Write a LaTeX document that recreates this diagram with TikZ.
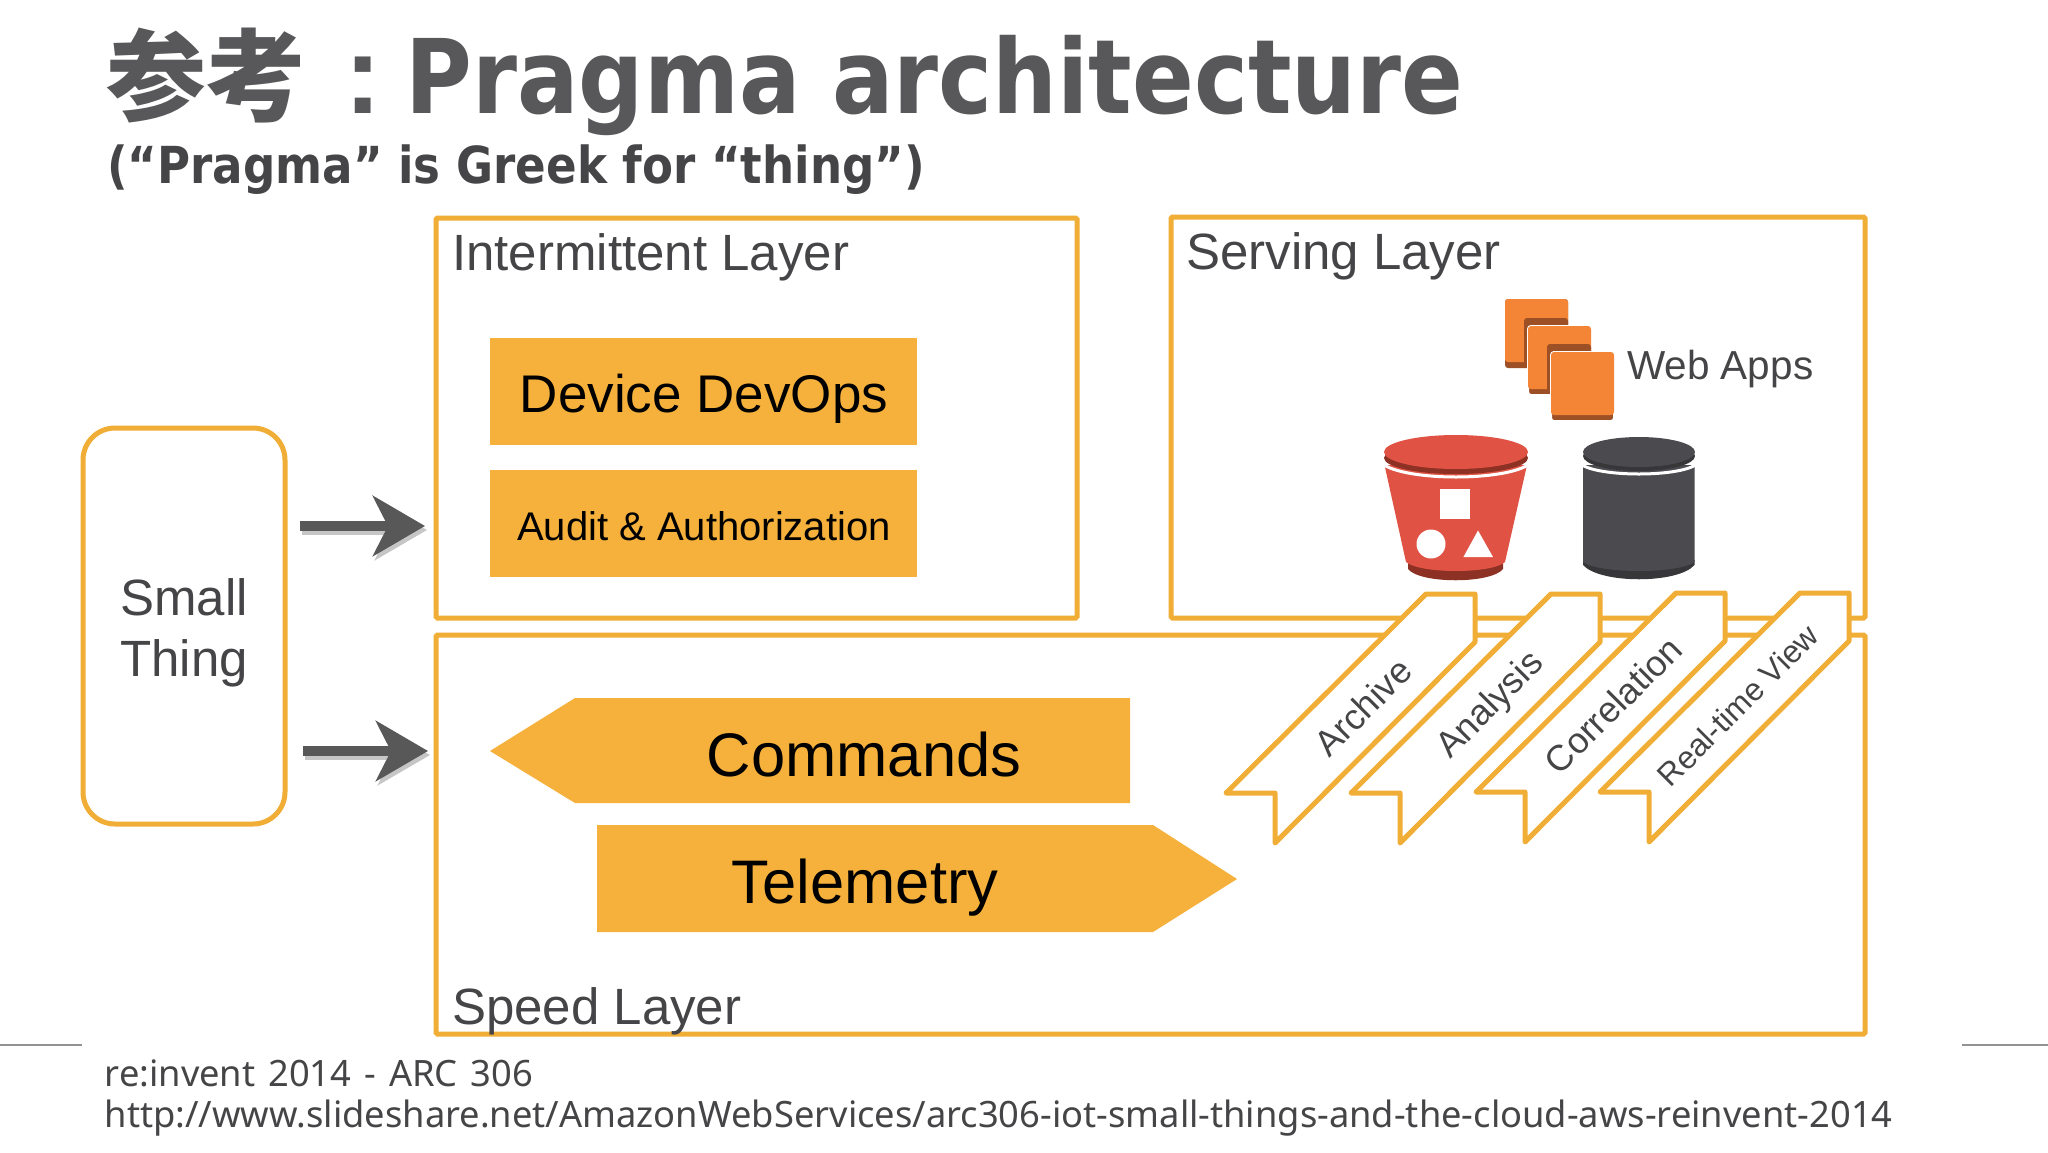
\documentclass[tikz,border=0pt]{standalone}
\usepackage{fontspec}
\usepackage{xcolor}
\usetikzlibrary{arrows.meta}
\setmainfont{Liberation Sans}
\newfontfamily\titlefont[FakeStretch=.885]{DejaVu Sans}
\newfontfamily\footfont{Noto Sans}
\newfontfamily\cjkfont{Noto Sans CJK JP}
\definecolor{awsamber}{HTML}{F5B13B}
\definecolor{awsline}{HTML}{F1AE37}
\definecolor{slidetext}{HTML}{454547}
\definecolor{cardlight}{HTML}{F58536}
\definecolor{carddark}{HTML}{9D5025}
\definecolor{bucketred}{HTML}{E05243}
\definecolor{bucketdark}{HTML}{8C3123}
\definecolor{dbgrey}{HTML}{4B4B4F}
\definecolor{dbdark}{HTML}{37373A}
\newcommand{\fsz}[1]{\fontsize{#1}{60.5}\selectfont}
\tikzset{
  layerbox/.style={draw=awsline,line width=5pt,rounded corners=1.5pt,inner sep=0},
  layerlabel/.style={anchor=base west,inner sep=0,text=slidetext,font=\fsz{51}},
  amberbox/.style={fill=awsamber,inner sep=0,text=black},
  ribbon/.style={draw=awsline,fill=white,line width=5pt,line join=round},
  ribbonlabel/.style={inner sep=0,text=slidetext,rotate=45},
  footline/.style={anchor=base west,inner sep=0,text=slidetext,font=\footfont\fsz{36.3}},
  rule/.style={draw=gray!85,line width=2pt},
  thingarrow/.style={line width=10pt,-{Stealth[length=52pt,width=60pt,inset=15pt]}}
}
\begin{document}
\begin{tikzpicture}[x=1pt,y=-1pt]
  \useasboundingbox (0,0) rectangle (2048,1152);
  \fill[white] (0,0) rectangle (2048,1152);

  % headings
  \node[anchor=base west,inner sep=0,text=slidetext!90] (title) at (106,113)
    {\cjkfont\bfseries\fsz{100}参考\hspace{38pt}\rmfamily\bfseries\fsz{112}:\hspace{24pt}\titlefont\bfseries\fsz{103}Pragma architecture};
  \node[anchor=base west,inner sep=0,text=slidetext] (subtitle) at (107,183)
    {\titlefont\bfseries\fsz{51}(“Pragma” is Greek for “thing”)};

  % layers
  \node[layerbox,minimum width=641pt,minimum height=400pt] (intermittent) at (756.5,418) {};
  \node[layerbox,minimum width=694pt,minimum height=401pt] (serving) at (1518,417.5) {};
  \node[layerbox,minimum width=1429pt,minimum height=399pt] (speed) at (1150.5,834.5) {};
  \node[layerlabel] (intermittent_L) at (452,270) {Intermittent Layer};
  \node[layerlabel] (serving_L) at (1186,269) {Serving Layer};
  \node[layerlabel] (speed_L) at (452,1024) {Speed Layer};

  \node[amberbox,minimum width=427pt,minimum height=107pt] (devops) at (703.5,391.5) {};
  \node[inner sep=0,text=black,font=\fsz{53}] (devops_L) at (704,399) {Device DevOps};
  \node[amberbox,minimum width=427pt,minimum height=107pt] (audit) at (703.5,523.5) {};
  \node[inner sep=0,text=black,font=\fsz{40}] (audit_L) at (704,526) {Audit \& Authorization};

  \fill[awsamber] (490,751) -- (575,698) -- (1130,698) -- (1130,803) -- (575,803) -- cycle;
  \node[inner sep=0,text=black,font=\fsz{61.5}] (commands) at (864,755) {Commands};
  \fill[awsamber] (597,825) -- (1153,825) -- (1237,879) -- (1153,932) -- (597,932) -- cycle;
  \node[inner sep=0,text=black,font=\fsz{61.5}] (telemetry) at (865,888) {Telemetry};

  % small thing and its arrows
  \node[draw=awsline,line width=5pt,rounded corners=32pt,inner sep=0,minimum width=202pt,minimum height=396pt] (thing) at (184,626) {};
  \node[inner sep=0,align=center,text=slidetext,font=\fsz{51}] (thing_L) at (184,633) {Small\\Thing};
  \coordinate (arrow_A) at (300,526);
  \coordinate (arrow_B) at (425,526);
  \coordinate (arrow_C) at (303,751);
  \coordinate (arrow_D) at (428,751);
  \draw[thingarrow,draw=gray!45,fill=gray!45,transform canvas={xshift=2pt,yshift=-4pt}] (arrow_A) -- (arrow_B);
  \draw[thingarrow,draw=gray!45,fill=gray!45,transform canvas={xshift=2pt,yshift=-4pt}] (arrow_C) -- (arrow_D);
  \draw[thingarrow,draw=slidetext!90,fill=slidetext!90] (arrow_A) -- (arrow_B);
  \draw[thingarrow,draw=slidetext!90,fill=slidetext!90] (arrow_C) -- (arrow_D);

  % web apps
  \fill[carddark,rounded corners=3pt] (1505,299) rectangle (1568,368);
  \fill[cardlight,rounded corners=3pt] (1505,299) rectangle (1568,362);
  \foreach \cx/\cy in {1528/326,1551/352}{
    \fill[carddark,rounded corners=3pt] (\cx-4,\cy-8) rectangle (\cx+40,\cy+42);
    \draw[white,line width=2pt,fill=carddark,rounded corners=3pt] (\cx,\cy) rectangle (\cx+63,\cy+69);
    \fill[cardlight,rounded corners=3pt] (\cx,\cy) rectangle (\cx+63,\cy+63);
  }
  \node[anchor=base west,inner sep=0,text=slidetext,font=\fsz{40.5}] (webapps) at (1627,379) {Web Apps};

  % bucket
  \fill[bucketdark] (1408,560) -- (1408,569) .. controls (1420,584) and (1491,584) .. (1503,569) -- (1503,560) -- cycle;
  \fill[bucketred] (1384.5,465) -- (1406,562) .. controls (1420,574) and (1492,574) .. (1505,562) -- (1527,465) -- cycle;
  \draw[white,line width=3pt] (1384,465) .. controls (1410,481) and (1502,481) .. (1528,465);
  \fill[bucketdark] (1456,458) ellipse [x radius=72,y radius=16];
  \fill[bucketred] (1456,452) ellipse [x radius=72,y radius=17];
  \fill[white] (1439.5,489) rectangle (1470,519);
  \fill[white] (1431,544) circle (14.5);
  \fill[white] (1478,530.5) -- (1493,557) -- (1463.4,557) -- cycle;

  % database
  \fill[dbdark] (1583,560) -- (1583,565) .. controls (1600,584) and (1678,584) .. (1694.5,565) -- (1694.5,560) -- cycle;
  \fill[dbgrey] (1583,465) -- (1583,562) .. controls (1600,574) and (1678,574) .. (1694.5,562) -- (1694.5,465) -- cycle;
  \draw[white,line width=3pt] (1582,465) .. controls (1602,477) and (1676,477) .. (1695.5,465);
  \fill[dbdark] (1639,456) ellipse [x radius=56,y radius=15];
  \fill[dbgrey] (1639,452) ellipse [x radius=56,y radius=15];

  % ribbons
  \foreach \dx/\dy/\rname/\rtext/\tx/\ty/\rsize in {
    0/0/archive/Archive/1363/707/36,
    125/0/analysis/Analysis/1491/706/36,
    250/-1/correlation/Correlation/1613/705/36,
    374/-1/realtime/Real-time View/1738/705/31.7}{
    \draw[ribbon] (1426+\dx,594+\dy) -- (1475+\dx,594+\dy) -- (1475+\dx,642+\dy) -- (1275+\dx,843+\dy)
      -- (1275+\dx,793+\dy) -- (1226+\dx,793+\dy) -- cycle;
    \node[ribbonlabel,font=\fsz{\rsize}] (\rname) at (\tx,\ty) {\rtext};
  }

  % footer
  \coordinate (rule_A) at (0,1045);
  \coordinate (rule_B) at (82,1045);
  \coordinate (rule_C) at (1962,1045);
  \coordinate (rule_D) at (2048,1045);
  \draw[rule] (rule_A) -- (rule_B);
  \draw[rule] (rule_C) -- (rule_D);
  \node[footline] (event) at (104.5,1086) {\spaceskip=13pt re:invent 2014 - ARC 306};
  \node[footline] (link) at (104.5,1127) {http://www.slideshare.net/AmazonWebServices/arc306-iot-small-things-and-the-cloud-aws-reinvent-2014};
\end{tikzpicture}
\end{document}
